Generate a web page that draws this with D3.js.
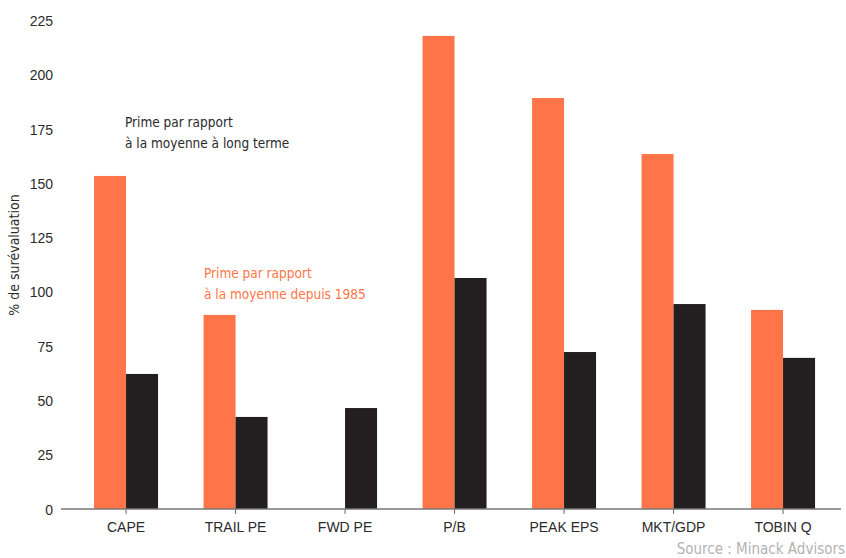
<!DOCTYPE html>
<html>
<head>
<meta charset="utf-8">
<script src="https://cdn.jsdelivr.net/npm/d3@7"></script>
<style>
    body { margin: 0; background: #fff; }
    svg { display: block; font-family: "Liberation Sans Narrow", "DejaVu Sans Condensed", "Roboto", sans-serif; }
    .axis text { font-size: 14px; fill: #2b2b2b; }
</style>
</head>
<body>
<div id="chart"></div>
<script>
    // data
    const categories = ["CAPE", "TRAIL PE", "FWD PE", "P/B", "PEAK EPS", "MKT/GDP", "TOBIN Q"];
    const since1985 = [153.4, 89.4, 0, 217.9, 189.3, 163.5, 91.7];
    const longTerm = [62.2, 42.4, 46.5, 106.4, 72.3, 94.4, 69.6];
    const yTicks = [0, 25, 50, 75, 100, 125, 150, 175, 200, 225];

    let WIDTH = 846,
        HEIGHT = 558,
        ORANGE = "#ff7549",
        BLACK = "#231f20";

    let svg = d3.select("#chart").append("svg")
        .attr("width", WIDTH)
        .attr("height", HEIGHT);

    let x = d3.scaleBand()
        .domain(categories)
        .range([71.3, 837.8]);

    let y = d3.scaleLinear()
        .domain([0, 225])
        .range([509, 20.5]);

    let BAR_W = 32;

    // y axis labels (no line)
    let yAxis = svg.append("g")
        .attr("class", "axis")
        .attr("transform", "translate(53,0)")
        .call(d3.axisLeft(y).tickValues(yTicks).tickSize(0).tickPadding(0));
    yAxis.select(".domain").remove();
    yAxis.selectAll("text").attr("text-anchor", "end").attr("dy", "0.36em");

    // bars
    svg.append("g").selectAll("rect")
        .data(categories)
        .join("rect")
        .attr("x", d => x(d) + x.bandwidth() / 2 - BAR_W)
        .attr("width", BAR_W)
        .attr("y", (d, i) => y(since1985[i]))
        .attr("height", (d, i) => y(0) - y(since1985[i]))
        .attr("fill", ORANGE);

    svg.append("g").selectAll("rect")
        .data(categories)
        .join("rect")
        .attr("x", d => x(d) + x.bandwidth() / 2)
        .attr("width", BAR_W)
        .attr("y", (d, i) => y(longTerm[i]))
        .attr("height", (d, i) => y(0) - y(longTerm[i]))
        .attr("fill", BLACK);

    // x axis
    let xAxis = svg.append("g")
        .attr("class", "axis")
        .attr("transform", "translate(0," + y(0) + ")")
        .call(d3.axisBottom(x).tickSize(5).tickPadding(8));
    xAxis.select(".domain").remove();
    xAxis.selectAll(".tick line").attr("stroke", "#666");
    svg.append("line")
        .attr("x1", 61).attr("x2", 841)
        .attr("y1", y(0)).attr("y2", y(0))
        .attr("stroke", "#777")
        .attr("stroke-width", 1.5);

    // y title
    svg.append("text")
        .attr("transform", "translate(19,255) rotate(-90)")
        .attr("text-anchor", "middle")
        .attr("font-size", 14)
        .attr("fill", "#2b2b2b")
        .text("% de surévaluation");

    // annotations
    let notes = [
        {lines: ["Prime par rapport", "à la moyenne à long terme"], x: 125, y: 127, color: "#2b2b2b"},
        {lines: ["Prime par rapport", "à la moyenne depuis 1985"], x: 204, y: 278, color: ORANGE}
    ];
    notes.forEach(n => {
        svg.append("text")
            .attr("x", n.x).attr("y", n.y)
            .attr("font-size", 13.5)
            .attr("fill", n.color)
            .selectAll("tspan")
            .data(n.lines)
            .join("tspan")
            .attr("x", n.x)
            .attr("dy", (d, i) => i ? 21 : 0)
            .text(d => d);
    });

    // source
    svg.append("text")
        .attr("x", 845).attr("y", 554)
        .attr("text-anchor", "end")
        .attr("font-size", 15)
        .attr("fill", "#b3b3b3")
        .text("Source : Minack Advisors");
</script>
</body>
</html>
